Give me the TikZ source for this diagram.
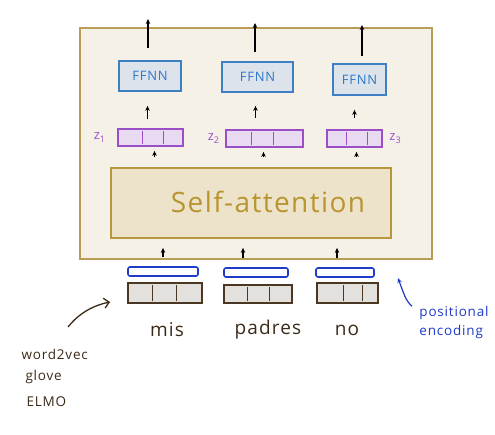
\documentclass[tikz,border=0pt]{standalone}
\usepackage{fontspec}
\setmainfont{Open Sans}
\usetikzlibrary{arrows.meta,calc}
\definecolor{outerf}{HTML}{F6F1E6}
\definecolor{outerb}{HTML}{B99C55}
\definecolor{saf}{HTML}{EDE3CB}
\definecolor{sab}{HTML}{B8973C}
\definecolor{sat}{HTML}{B89530}
\definecolor{ffnnf}{HTML}{DCE3EB}
\definecolor{ffnnb}{HTML}{3F80C4}
\definecolor{ffnnt}{HTML}{2E78C8}
\definecolor{zf}{HTML}{E8DAF0}
\definecolor{zb}{HTML}{9A4FC9}
\definecolor{peb}{HTML}{1F3BC8}
\definecolor{embf}{HTML}{E3E1DE}
\definecolor{embb}{HTML}{4B3622}
\definecolor{wordc}{HTML}{3B2A18}
\newfontfamily\wideface[LetterSpace=6]{Open Sans}
\newcommand\mydivs[4]{%
  \draw[#2] ($(#1.north west)!#3!(#1.north east)+(0,3)$) -- ($(#1.south west)!#3!(#1.south east)+(0,-3)$);
  \draw[#2] ($(#1.north west)!#4!(#1.north east)+(0,3)$) -- ($(#1.south west)!#4!(#1.south east)+(0,-3)$);}
\begin{document}
\begin{tikzpicture}[x=1pt,y=-1pt,
  arr/.style={-{Stealth[length=5pt,width=4.5pt]}, line width=1.3pt, black},
  outerbox/.style={draw=outerb, fill=outerf, line width=1.8pt},
  sabox/.style={draw=sab, fill=saf, line width=1.8pt, text=sat, inner sep=0pt},
  ffnnbox/.style={draw=ffnnb, fill=ffnnf, line width=1.8pt, text=ffnnt, inner sep=0pt, font=\wideface\fontsize{13}{14}\selectfont},
  zbox/.style={draw=zb, fill=zf, line width=1.8pt, inner sep=0pt, minimum height=17pt},
  zlab/.style={text=zb, font=\fontsize{13}{14}\selectfont},
  zdiv/.style={draw=zb, line width=1.2pt},
  pebox/.style={draw=peb, fill=white, line width=1.6pt, rounded corners=2pt, inner sep=0pt, minimum height=9pt},
  embbox/.style={draw=embb, fill=embf, line width=1.8pt, inner sep=0pt},
  embdiv/.style={draw=embb, line width=1.2pt},
  word/.style={text=wordc, font=\wideface\fontsize{19}{20}\selectfont},
  note/.style={text=wordc, font=\wideface\fontsize{13.5}{19}\selectfont, align=left},
  posnote/.style={text=peb, font=\wideface\fontsize{13.5}{19}\selectfont, align=left}]
\useasboundingbox (0,0) rectangle (495,435);

% outer box
\node[outerbox, minimum width=352pt, minimum height=231pt] (outer) at (256,143.5) {};

% FFNN
\node[ffnnbox, minimum width=62pt, minimum height=30pt] (f1) at (150,76) {FFNN};
\node[ffnnbox, minimum width=71pt, minimum height=30pt] (f2) at (257.5,77) {FFNN};
\node[ffnnbox, minimum width=53pt, minimum height=31pt] (f3) at (359.5,79.5) {FFNN};

\coordinate (o1) at (148,19);
\coordinate (o2) at (255,23);
\coordinate (o3) at (362,25);
\draw[arr, shorten <=12pt] (f1.north -| o1) -- (o1);
\draw[arr, shorten <=9pt] (f2.north -| o2) -- (o2);
\draw[arr, shorten <=7pt] (f3.north -| o3) -- (o3);

% z boxes
\node[zbox, minimum width=65pt] (z1) at (150.5,137.5) {};
\node[zbox, minimum width=77pt] (z2) at (264.5,138.5) {};
\node[zbox, minimum width=55pt] (z3) at (354.5,138.5) {};
\mydivs{z1}{zdiv}{0.38}{0.69}
\mydivs{z2}{zdiv}{0.34}{0.61}
\mydivs{z3}{zdiv}{0.36}{0.73}
\node[zlab, anchor=east] (zl1) at ([xshift=-8pt]z1.west) {z\textsubscript{1}};
\node[zlab, anchor=east] (zl2) at ([xshift=-2pt]z2.west) {z\textsubscript{2}};
\node[zlab, anchor=west] (zl3) at ([xshift=3pt]z3.east) {z\textsubscript{3}};

\coordinate (zu1) at ([xshift=-3pt]z1.north);
\coordinate (zu2) at ([xshift=-9pt]z2.north);
\coordinate (zu3) at (z3.north);
\draw[arr, shorten <=9pt, shorten >=14pt] (zu1) -- (zu1 |- f1.south);
\draw[arr, shorten <=11pt, shorten >=13pt] (zu2) -- (zu2 |- f2.south);
\draw[arr, shorten <=11pt, shorten >=14pt] (zu3) -- (zu3 |- f3.south);

% self-attention
\node[sabox, minimum width=280pt, minimum height=70pt] (sa) at (251,203) {};
\node[text=sat, font={\fontspec[LetterSpace=5]{Open Sans}\fontsize{28}{30}\selectfont}] (satext) at (268,202) {Self-attention};

\coordinate (zd1) at ([xshift=4pt]z1.south);
\coordinate (zd2) at ([xshift=-1pt]z2.south);
\coordinate (zd3) at ([xshift=2pt]z3.south);
\draw[arr, shorten <=10pt, shorten >=4pt] (sa.north -| zd1) -- (zd1);
\draw[arr, shorten <=10pt, shorten >=4pt] (sa.north -| zd2) -- (zd2);
\draw[arr, shorten <=10pt, shorten >=4pt] (sa.north -| zd3) -- (zd3);

% positional encodings
\node[pebox, minimum width=70pt] (pe1) at (163,271.5) {};
\node[pebox, minimum width=64pt] (pe2) at (256,272.5) {};
\node[pebox, minimum width=58pt] (pe3) at (345,272.5) {};

\coordinate (pu1) at (pe1.north);
\coordinate (pu2) at ([xshift=-13pt]pe2.north);
\coordinate (pu3) at ([xshift=-8pt]pe3.north);
\draw[arr, shorten <=9pt, shorten >=9pt] (pu1) -- (pu1 |- sa.south);
\draw[arr, shorten <=9pt, shorten >=9pt] (pu2) -- (pu2 |- sa.south);
\draw[arr, shorten <=9pt, shorten >=9pt] (pu3) -- (pu3 |- sa.south);

% embeddings
\node[embbox, minimum width=74pt, minimum height=20pt] (e1) at (165,293) {};
\node[embbox, minimum width=68pt, minimum height=18pt] (e2) at (258,294) {};
\node[embbox, minimum width=61pt, minimum height=20pt] (e3) at (347.5,293) {};
\mydivs{e1}{embdiv}{0.34}{0.65}
\mydivs{e2}{embdiv}{0.35}{0.66}
\mydivs{e3}{embdiv}{0.43}{0.74}

% words
\node[word] (w1) at (167,330) {mis};
\node[word] (w2) at (268,330) {padres};
\node[word] (w3) at (347,330) {no};

% positional encoding note
\node[posnote] (pos) at (454,322) {positional\\encoding};
\coordinate (pa) at (398,278);
\draw[arr, peb, line width=1.2pt] ([xshift=-4pt,yshift=-4pt]pos.north west) .. controls (406,300) .. (pa);

% embedding note
\node[note, anchor=north west] (emb) at (18,346) {word2vec\\[2pt]\hspace*{4pt}glove\\[7pt]\hspace*{5pt}ELMO};
\coordinate (es) at (68,327);
\coordinate (ea) at (110,302);
\draw[-{Straight Barb[length=5pt]}, line width=1.3pt, wordc] (es) .. controls (80,312) and (95,305) .. (ea);
\end{tikzpicture}
\end{document}
